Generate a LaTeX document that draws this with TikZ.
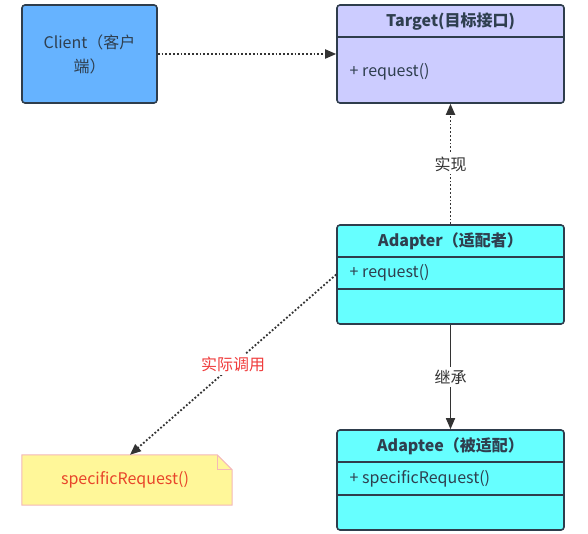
\documentclass[tikz,border=0pt]{standalone}
\usepackage{fontspec}
\setmainfont{Noto Sans CJK SC}
\usetikzlibrary{arrows.meta}
\definecolor{edge}{HTML}{2E3D4C}
\definecolor{clientc}{HTML}{66B3FF}
\definecolor{targetc}{HTML}{CCCCFF}
\definecolor{adaptc}{HTML}{66FFFF}
\definecolor{notec}{HTML}{FFF799}
\definecolor{notee}{HTML}{F4B8B8}
\definecolor{redt}{HTML}{E8452A}
\definecolor{lbl}{HTML}{F03C3C}
\definecolor{txt}{HTML}{2F3F4F}
\definecolor{conn}{HTML}{333333}
\begin{document}
\begin{tikzpicture}[x=1pt,y=-1pt,
  box/.style={draw=edge,line width=1.6pt,rounded corners=3pt,inner sep=0pt},
  divider/.style={draw=edge,line width=1.6pt},
  head/.style={font=\fontsize{16}{19}\selectfont\bfseries,text=txt},
  member/.style={font=\fontsize{16}{19}\selectfont,text=txt,anchor=west},
  dotconn/.style={draw=conn,line width=1.8pt,dotted,-{Triangle[length=11pt,width=9pt]}},
  solconn/.style={draw=conn,line width=1.6pt,-{Triangle[length=11pt,width=9pt]}},
  elabel/.style={fill=white,inner sep=3pt,font=\fontsize{16}{19}\selectfont,text=conn}
]
\useasboundingbox (0,0) rectangle (588,534);
% Client
\node[box,fill=clientc,minimum width=135pt,minimum height=98pt,align=center,
  font=\fontsize{16}{24}\selectfont,text=txt] (client) at (89.5,54) {Client（客户\\端）};
% Target
\node[box,fill=targetc,minimum width=227pt,minimum height=98pt] (target) at (450.5,54) {};
\draw[divider] ([yshift=-33pt]target.north west) -- ([yshift=-33pt]target.north east);
\node[head] (targeth) at ([yshift=-17pt]target.north) {Target(目标接口)};
\node[member] (targetm) at ([xshift=10pt,yshift=-18pt]target.west) {+ request()};
% Adapter
\node[box,fill=adaptc,minimum width=227pt,minimum height=99pt] (adapter) at (450.5,274.5) {};
\draw[divider] ([yshift=-33pt]adapter.north west) -- ([yshift=-33pt]adapter.north east);
\draw[divider] ([yshift=-65pt]adapter.north west) -- ([yshift=-65pt]adapter.north east);
\node[head] (adapterh) at ([yshift=-17pt]adapter.north) {Adapter（适配者）};
\node[member] (adapterm) at ([xshift=10pt,yshift=-49pt]adapter.north west) {+ request()};
% Adaptee
\node[box,fill=adaptc,minimum width=227pt,minimum height=100pt] (adaptee) at (450.5,480) {};
\draw[divider] ([yshift=-33pt]adaptee.north west) -- ([yshift=-33pt]adaptee.north east);
\draw[divider] ([yshift=-66pt]adaptee.north west) -- ([yshift=-66pt]adaptee.north east);
\node[head] (adapteeh) at ([yshift=-17pt]adaptee.north) {Adaptee（被适配）};
\node[member] (adapteem) at ([xshift=10pt,yshift=-50pt]adaptee.north west) {+ specificRequest()};
% Note
\node[minimum width=210pt,minimum height=50pt,inner sep=0pt] (note) at (127,480) {};
\draw[draw=notee,fill=notec,line width=1pt]
  (note.north west) -- ([xshift=-15pt]note.north east) -- ([yshift=-15pt]note.north east)
  -- (note.south east) -- (note.south west) -- cycle;
\draw[draw=notee,line width=1pt] ([xshift=-15pt]note.north east) -- ([xshift=-15pt,yshift=-15pt]note.north east) -- ([yshift=-15pt]note.north east);
\node[font=\fontsize{16}{19}\selectfont,text=redt] (notet) at ([xshift=-2pt]note.center) {specificRequest()};
% Connectors
\draw[dotconn] (client.east) -- (target.west);
\draw[dotconn] (adapter.north) -- node[elabel] {实现} (target.south);
\draw[solconn] (adapter.south) -- node[elabel] {继承} (adaptee.north);
\draw[dotconn] (adapter.west) -- node[elabel,text=lbl,pos=0.5] {实际调用} ([xshift=3pt]note.north);
\end{tikzpicture}
\end{document}
